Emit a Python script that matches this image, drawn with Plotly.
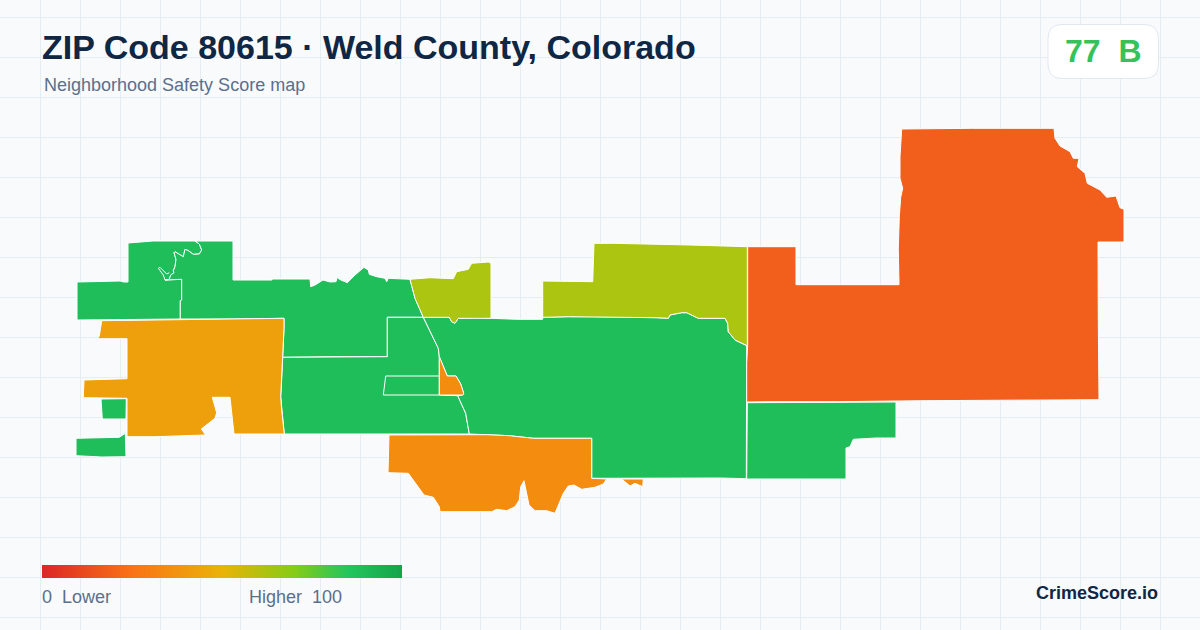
import plotly.graph_objects as go

title = "ZIP Code 80615 · Weld County, Colorado"
subtitle = "Neighborhood Safety Score map"
score_text = "77\u00a0\u00a0B"
brand = "CrimeScore.io"
scale_low = "0\u00a0\u00a0Lower"
scale_high = "Higher\u00a0\u00a0100"

GREEN = "#20be5b"
AMBER = "#eea00c"
ORANGE = "#f48c10"
RED_ORANGE = "#f25f1c"
OLIVE = "#abc510"

shared_edge = [(195,241),(199.3,244),(201.7,250),(199.3,254),(193.3,254.3),(188.3,250.7),(185,249.3),(183.3,256.7),(180,255),(175,251.7),
               (174,252.7),(176,259.3),(175,266.7),(173.3,270.7),(174,272.7),(170.7,275),(169.3,279.3),(165,280)]
hook_line = [(165,280),(163.3,275),(158.3,268.3),(160,267.3),(166.7,274),(169.3,272.7)]
west = [(77,282),(120,281),(124,282),(128,282),(128,243),(153,241)] + shared_edge + [(181.7,279.3),(181.7,300),(180.3,300.7),(180.3,319),(77,320)]
north = [(233,241),(233,280),(272,280),(272,279),(310,279),(310.7,286.7),(315,285),(323,280),(330,282),(336,281.7),
         (337.3,277.3),(339.3,279.3),(347.3,282.7),(355,275),(364,267.3),(368.3,270),(369.3,274.3),(376.7,276.7),(385,278.3),
         (386.7,281.7),(388.3,278.3),(410,279.3),(415,298.3),(423.3,317.3),(387.3,317.3),(387.3,356.7),(335,356.7),(282.7,357.3),
         (284,328.3),(284,318.3),(233.3,319),(180.3,319),(180.3,300.7),(181.7,300),(181.7,279.3)] + shared_edge[::-1]
center_west = [(282.7,357.3),(335,356.7),(387.3,356.7),(387.3,317.3),(423.3,317.3),(438.3,348.3),(439.3,356.7),(439.3,395),
               (457.7,395.7),(465.7,413.3),(469.3,434),(284.3,434),(281.7,410),(280.7,396.7),(281.3,386.7)]
mini_tract = [(385.7,376),(439.3,376),(439.3,395),(383.3,395)]
square_green = [(101,399),(126.3,398.7),(126,419),(102.3,419)]
low_left = [(76,438.3),(119.3,437.3),(125.3,433.3),(126,456.7),(101.7,457),(76,455.7)]
big_center = [(423.3,317.3),(449.3,317.3),(451.7,321.7),(455,323.3),(458.3,318.3),(480,317.7),(491,318.3),(516.7,319.3),(542.7,319.3),
              (542.7,317.3),(568.3,316.7),(591.7,316.7),(656.7,317.7),(668.3,318.3),(670,315),(681.7,312.7),(686.7,312.7),(698.3,318.3),
              (725,318.3),(727.7,323.3),(728.3,331.7),(735,340),(746.7,345.7),(746.7,363.3),(746.3,402.3),(747,413.3),(746.3,478.7),
              (720,478),(591.7,478.3),(591.7,438.3),(533.3,438.3),(509.3,435.7),(486.7,434.7),(469.3,434),(465.7,413.3),(457.7,395.7),
              (462.7,395),(463.7,393.3),(460.7,384),(456,376),(447.3,376),(439.3,356.7),(438.3,348.3)]
southeast = [(747.3,402.7),(837.3,402.3),(896,402),(896,438),(876,438),(853.3,439.3),(850,446.7),(846,448),(846,479),(746.7,479)]

amber_west = [(101.7,320.7),(155,320),(233.3,319),(284,318.3),(284,328.3),(282.7,357.3),(281.3,386.7),(280.7,396.7),(281.7,410),
              (284.3,434),(234,434),(230,397.3),(212.3,397.3),(216.7,412.7),(215,418.3),(206.7,425),(201.3,429),(205.7,435),
              (155,436.7),(127,436.7),(127,398.3),(83.3,397.7),(84,380),(127,378.7),(127,338.7),(97.3,338.7),(99.3,336)]
olive_west = [(410,279.3),(430,277.7),(453.3,278.7),(456.7,271.7),(468.3,269.3),(471.7,263.3),(488.3,262),(491,263.3),(491,318.3),
              (458.3,318.3),(455,323.3),(451.7,321.7),(449.3,317.3),(423.3,317.3),(415,298.3)]
olive_east = [(542.7,281),(566.7,281),(592.7,281.7),(594,243.3),(613.3,243.3),(690,245),(747.3,246.7),(747.3,345.7),(735,340),
              (728.3,331.7),(727.7,323.3),(725,318.3),(698.3,318.3),(686.7,312.7),(681.7,312.7),(670,315),(668.3,318.3),(656.7,317.7),
              (591.7,316.7),(568.3,316.7),(542.7,317.3)]
triangle = [(439.3,356.7),(447.3,376),(456,376),(460.7,384),(463.7,393.3),(462.7,395),(439.3,395)]
south = [(389,435),(470,434.3),(486.7,434.7),(509.3,435.7),(533.3,438.3),(591.7,438.3),(591.7,478.3),(606.7,479),(603.3,484),(595,487.3),
         (581.7,489.3),(574,485),(568.3,486),(563.3,493.3),(558.3,505),(555,513.3),(546.7,510.7),(535,510.7),(529,505),(527.3,496.7),
         (524,480.7),(520.7,486.7),(519.3,500),(515,506.7),(506.7,510.7),(496.7,509.3),(491.7,511.7),(440,511.7),(439.3,506.7),
         (433.3,497.3),(424,495),(408.3,473.3),(388,472.7)]
south_sliver = [(621.7,479),(643.3,479),(642.7,486.7),(635,483.3),(630,486)]
northeast = [(747.7,246.7),(796,246.7),(796,284.7),(899,284.7),(898.3,248.3),(899.3,216.7),(900.7,197.3),(902.7,188.3),(900,178.3),
             (900,156.7),(901.7,129),(971.7,128.3),(1054,128.3),(1055,138.3),(1060,146),(1070,151.7),(1073.3,158.3),(1079,158.3),
             (1077.3,166.7),(1085,173.3),(1087.3,183.3),(1100,190),(1106.7,197.3),(1116,196),(1120,207.7),(1124,209.3),(1124,242),
             (1098,242),(1098.3,320.7),(1099,399.7),(921.7,400.7),(838.3,401.7),(771.7,401.7),(746.7,402),(746.7,363.3),(747.7,345)]

regions = [(west, GREEN), (north, GREEN), (center_west, GREEN), (mini_tract, GREEN), (square_green, GREEN), (low_left, GREEN),
           (big_center, GREEN), (southeast, GREEN), (amber_west, AMBER), (olive_west, OLIVE), (olive_east, OLIVE),
           (triangle, ORANGE), (south, ORANGE), (south_sliver, ORANGE), (northeast, RED_ORANGE)]

scale_stops = [0, 25, 50, 70, 85, 100]
scale_colors = ["#dc2626", "#f97316", "#eab308", "#84cc16", "#22c55e", "#16a34a"]
scale_values = [v + 0.5 for v in range(100)]
scale_rows = [568.25, 574.75]

BG = "#f8fafc"
GRID = "#e5edf2"
INK = "#0f2744"
MUTED = "#5b6f8c"

fig = go.Figure()
for pts, color in regions:
    closed = pts + [pts[0]]
    fig.add_trace(go.Scatter(x=[p[0] for p in closed], y=[p[1] for p in closed], mode="lines", fill="toself",
                             fillcolor=color, line=dict(color="#ffffff", width=1), hoverinfo="skip", showlegend=False))
fig.add_trace(go.Scatter(x=[p[0] for p in hook_line], y=[p[1] for p in hook_line], mode="lines",
                         line=dict(color="#ffffff", width=1), hoverinfo="skip", showlegend=False))

fig.add_trace(go.Heatmap(z=[scale_values, scale_values], x=[42 + 3.6 * v for v in scale_values], y=scale_rows, zsmooth="best",
                         zmin=0, zmax=100, showscale=False, hoverinfo="skip",
                         colorscale=[[s / 100, c] for s, c in zip(scale_stops, scale_colors)]))

fig.add_shape(type="rect", x0=0, x1=1200, y0=0, y1=96.4, layer="below", line_width=0, fillcolor=BG)
fig.add_shape(type="path", layer="above", fillcolor="#ffffff", line=dict(color="#e2e8f0", width=1),
              path="M 1062 24.5 L 1144 24.5 Q 1158.5 24.5 1158.5 39 L 1158.5 64 Q 1158.5 78.5 1144 78.5 L 1062 78.5 Q 1048 78.5 1048 64 L 1048 39 Q 1048 24.5 1062 24.5 Z")

def text(x, y, s, size, color, bold=False, anchor="left"):
    fig.add_annotation(x=x, y=y, xref="x", yref="y", text=f"<b>{s}</b>" if bold else s, showarrow=False,
                       xanchor=anchor, yanchor="middle", borderpad=0, borderwidth=0,
                       font=dict(family="Liberation Sans", size=size, color=color))

text(42, 47, title, 34, INK, True)
text(44, 85, subtitle, 18, MUTED)
text(1103, 51, score_text, 32, "#36c25a", True, "center")
text(42, 597, scale_low, 18, MUTED)
text(249, 597, scale_high, 18, MUTED)
text(1158, 593, brand, 18, INK, True, "right")

fig.update_layout(width=1200, height=630, margin=dict(l=0, r=0, t=0, b=0), plot_bgcolor=BG, paper_bgcolor=BG,
                  showlegend=False, autosize=False)
fig.update_xaxes(range=[0, 1200], tick0=0, dtick=40, showgrid=True, gridcolor=GRID, gridwidth=1, zeroline=False,
                 showticklabels=False, ticks="", showline=False, fixedrange=True)
fig.update_yaxes(range=[630, 0], tick0=17, dtick=40, showgrid=True, gridcolor=GRID, gridwidth=1, zeroline=False,
                 showticklabels=False, ticks="", showline=False, fixedrange=True)

fig.write_html("out.html", config={"displayModeBar": False},
               post_script="document.body.style.margin='0';document.documentElement.style.overflow='hidden';")
